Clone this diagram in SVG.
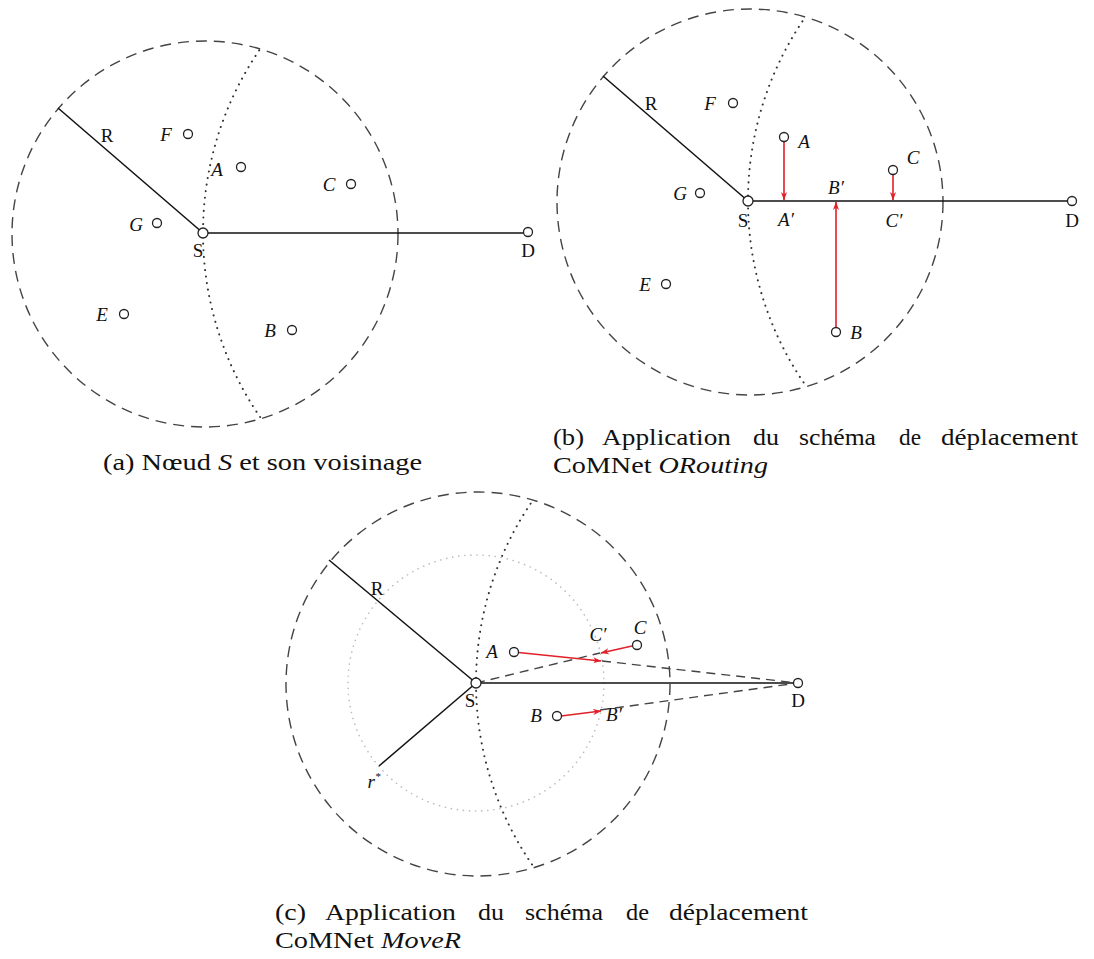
<svg xmlns="http://www.w3.org/2000/svg" width="1094" height="959" viewBox="0 0 1094 959">
<style>
.bg{fill:#fff}
.range{fill:none;stroke:#444;stroke-width:1.4;stroke-dasharray:11 7}
.dot{fill:none;stroke:#333;stroke-width:2;stroke-dasharray:0.1 6.5;stroke-linecap:round}
.inner{fill:none;stroke:#bbb;stroke-width:1.6;stroke-dasharray:0.1 6;stroke-linecap:round}
.solid{fill:none;stroke:#111;stroke-width:1.5}
.dash{fill:none;stroke:#444;stroke-width:1.4;stroke-dasharray:9 6}
.mv{fill:none;stroke:#e0202a;stroke-width:1.6}
.nd{fill:#fff;stroke:#222;stroke-width:1.3}
text{font-family:'Liberation Serif','DejaVu Serif','Noto Serif',serif}
.lb{font-size:19px;fill:#111;text-anchor:middle}
.it{font-style:italic}
.cap{font-size:24px;fill:#111}
</style>
<defs>
<marker id="ah" markerUnits="userSpaceOnUse" markerWidth="9" markerHeight="7" refX="8" refY="3.5" orient="auto">
<path d="M0,0.5 L8.5,3.5 L0,6.5 L2.5,3.5 z" fill="#e0202a"/>
</marker>
<clipPath id="clipA"><circle cx="205" cy="234" r="193"/></clipPath>
<clipPath id="clipB"><circle cx="750" cy="202" r="193"/></clipPath>
<clipPath id="clipC"><circle cx="478" cy="684" r="192"/></clipPath>
</defs>
<rect class="bg" width="1094" height="959"/>

<g id="panel-a">
<circle class="range" cx="205" cy="234" r="193"/>
<circle class="dot" cx="528" cy="233" r="325" clip-path="url(#clipA)"/>
</g>
<g id="panel-b">
<circle class="range" cx="750" cy="202" r="193"/>
<circle class="dot" cx="1072" cy="201" r="324" clip-path="url(#clipB)"/>
</g>
<g id="panel-c">
<circle class="range" cx="478" cy="684" r="192"/>
<circle class="dot" cx="798" cy="683" r="322" clip-path="url(#clipC)"/>
<circle class="inner" cx="476" cy="683" r="128"/>
</g>

<g id="connectors">
<line class="solid" x1="58" y1="108" x2="203" y2="233"/>
<line class="solid" x1="203" y1="233" x2="528" y2="233"/>
<line class="solid" x1="603" y1="76" x2="748" y2="201"/>
<line class="solid" x1="748" y1="201" x2="1072" y2="201"/>
<line class="mv" x1="784" y1="141.5" x2="784" y2="200" marker-end="url(#ah)"/>
<line class="mv" x1="836" y1="327.5" x2="836" y2="202" marker-end="url(#ah)"/>
<line class="mv" x1="893" y1="174.5" x2="893" y2="200" marker-end="url(#ah)"/>
<line class="solid" x1="329" y1="560" x2="476" y2="683"/>
<line class="solid" x1="379" y1="766" x2="476" y2="683"/>
<line class="solid" x1="476" y1="683" x2="798" y2="683"/>
<line class="dash" x1="476" y1="683" x2="600" y2="653"/>
<line class="dash" x1="602" y1="661" x2="798" y2="683"/>
<line class="dash" x1="600" y1="710" x2="798" y2="683"/>
<line class="mv" x1="518.5" y1="652.5" x2="601" y2="661" marker-end="url(#ah)"/>
<line class="mv" x1="632" y1="646" x2="601" y2="653" marker-end="url(#ah)"/>
<line class="mv" x1="561" y1="716" x2="601" y2="711" marker-end="url(#ah)"/>
</g>

<g id="a-R"><text class="lb" x="107" y="142">R</text></g>
<g id="a-F"><circle class="nd" cx="188" cy="134" r="4.5"/><text class="lb it" x="166" y="141">F</text></g>
<g id="a-A"><circle class="nd" cx="241" cy="167" r="4.5"/><text class="lb it" x="217" y="176">A</text></g>
<g id="a-C"><circle class="nd" cx="351" cy="184" r="4.5"/><text class="lb it" x="329" y="191">C</text></g>
<g id="a-G"><circle class="nd" cx="157" cy="223" r="4.5"/><text class="lb it" x="136" y="231">G</text></g>
<g id="a-S"><circle class="nd" cx="203" cy="233" r="5"/><text class="lb" x="198" y="257">S</text></g>
<g id="a-D"><circle class="nd" cx="528" cy="232" r="4.5"/><text class="lb" x="528" y="257">D</text></g>
<g id="a-E"><circle class="nd" cx="124" cy="314" r="4.5"/><text class="lb it" x="102" y="321">E</text></g>
<g id="a-B"><circle class="nd" cx="292" cy="330" r="4.5"/><text class="lb it" x="270" y="337">B</text></g>

<g id="b-R"><text class="lb" x="651" y="110">R</text></g>
<g id="b-F"><circle class="nd" cx="733" cy="103" r="4.5"/><text class="lb it" x="710" y="110">F</text></g>
<g id="b-G"><circle class="nd" cx="700" cy="193" r="4.5"/><text class="lb it" x="680" y="200">G</text></g>
<g id="b-E"><circle class="nd" cx="666" cy="284" r="4.5"/><text class="lb it" x="645" y="291">E</text></g>
<g id="b-A"><circle class="nd" cx="784" cy="137" r="4.5"/><text class="lb it" x="804" y="148">A</text></g>
<g id="b-C"><circle class="nd" cx="893" cy="170" r="4.5"/><text class="lb it" x="913" y="164">C</text></g>
<g id="b-B"><circle class="nd" cx="836" cy="332" r="4.5"/><text class="lb it" x="856" y="339">B</text></g>
<g id="b-A2"><text class="lb it" x="786" y="226">A′</text></g>
<g id="b-B2"><text class="lb it" x="836" y="194">B′</text></g>
<g id="b-C2"><text class="lb it" x="894" y="227">C′</text></g>
<g id="b-S"><circle class="nd" cx="748" cy="201" r="5"/><text class="lb" x="743" y="227">S</text></g>
<g id="b-D"><circle class="nd" cx="1072" cy="201" r="4.5"/><text class="lb" x="1072" y="227">D</text></g>

<g id="c-R"><text class="lb" x="377" y="595">R</text></g>
<g id="c-r"><text class="lb it" x="374" y="788">r<tspan font-size="11" dy="-8">*</tspan></text></g>
<g id="c-A"><circle class="nd" cx="514" cy="652" r="4.5"/><text class="lb it" x="492" y="658">A</text></g>
<g id="c-C"><circle class="nd" cx="637" cy="645" r="4.5"/><text class="lb it" x="640" y="634">C</text></g>
<g id="c-C2"><text class="lb it" x="598" y="641">C′</text></g>
<g id="c-B"><circle class="nd" cx="557" cy="716" r="4.5"/><text class="lb it" x="536" y="722">B</text></g>
<g id="c-B2"><text class="lb it" x="614" y="721">B′</text></g>
<g id="c-S"><circle class="nd" cx="476" cy="683" r="5"/><text class="lb" x="470" y="707">S</text></g>
<g id="c-D"><circle class="nd" cx="798" cy="683" r="4.5"/><text class="lb" x="798" y="707">D</text></g>

<g id="caption-a"><text class="cap" x="103" y="470" textLength="319" lengthAdjust="spacingAndGlyphs">(a) Nœud <tspan font-style="italic">S</tspan> et son voisinage</text></g>
<g id="caption-b">
<text class="cap" x="553" y="445" textLength="31" lengthAdjust="spacingAndGlyphs">(b)</text>
<text class="cap" x="602" y="445" textLength="129" lengthAdjust="spacingAndGlyphs">Application</text>
<text class="cap" x="753" y="445" textLength="26" lengthAdjust="spacingAndGlyphs">du</text>
<text class="cap" x="799" y="445" textLength="77" lengthAdjust="spacingAndGlyphs">schéma</text>
<text class="cap" x="899" y="445" textLength="22" lengthAdjust="spacingAndGlyphs">de</text>
<text class="cap" x="941" y="445" textLength="137" lengthAdjust="spacingAndGlyphs">déplacement</text>
<text class="cap" x="553" y="473" textLength="215" lengthAdjust="spacingAndGlyphs">CoMNet <tspan font-style="italic">ORouting</tspan></text>
</g>
<g id="caption-c">
<text class="cap" x="275" y="920" textLength="31" lengthAdjust="spacingAndGlyphs">(c)</text>
<text class="cap" x="325" y="920" textLength="131" lengthAdjust="spacingAndGlyphs">Application</text>
<text class="cap" x="478" y="920" textLength="26" lengthAdjust="spacingAndGlyphs">du</text>
<text class="cap" x="525" y="920" textLength="78" lengthAdjust="spacingAndGlyphs">schéma</text>
<text class="cap" x="626" y="920" textLength="23" lengthAdjust="spacingAndGlyphs">de</text>
<text class="cap" x="669" y="920" textLength="139" lengthAdjust="spacingAndGlyphs">déplacement</text>
<text class="cap" x="275" y="948" textLength="186" lengthAdjust="spacingAndGlyphs">CoMNet <tspan font-style="italic">MoveR</tspan></text>
</g>
</svg>
